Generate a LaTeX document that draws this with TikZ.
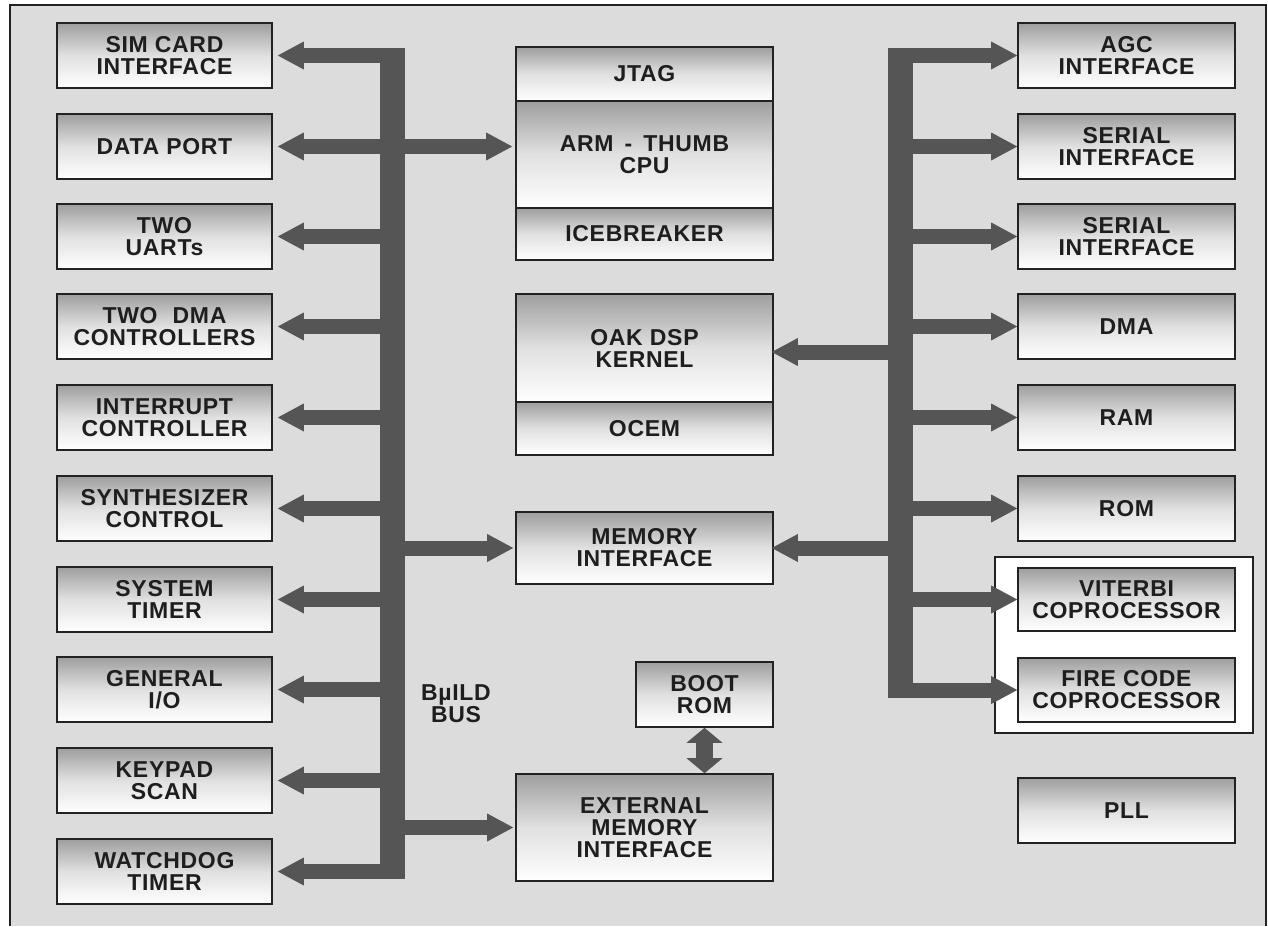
\documentclass[tikz,border=0pt]{standalone}
\usepackage{fontspec}
\setmainfont[LetterSpace=3]{Liberation Sans}
\usetikzlibrary{arrows.meta}
\definecolor{bg}{HTML}{DCDCDC}
\definecolor{busc}{HTML}{555555}
\definecolor{edge}{HTML}{222222}
\definecolor{txt}{HTML}{1E1E1E}
\begin{document}
\begin{tikzpicture}[x=1pt,y=-1pt,
  box/.style={draw=edge, line width=1.6pt, top color=black!38, bottom color=white, middle color=black!12,
    text=txt, align=center, inner sep=0pt, font=\fontsize{23}{22}\selectfont\bfseries},
  lbox/.style={box, minimum width=215pt, minimum height=65pt},
  rbox/.style={box, minimum width=217pt, minimum height=65pt},
  cbox/.style={box, minimum width=257pt},
  bus/.style={draw=busc, line width=25pt},
  fat/.style={draw=busc, line width=15pt, -{Triangle[width=28pt,length=26pt,line width=0pt]}},
  fatboth/.style={draw=busc, line width=15pt, {Triangle[width=28pt,length=26pt,line width=0pt]}-{Triangle[width=28pt,length=26pt,line width=0pt]}},
  vfat/.style={draw=busc, line width=17pt, {Triangle[width=36pt,length=15pt,line width=0pt]}-{Triangle[width=36pt,length=15pt,line width=0pt]}},
  lbl/.style={text=txt, align=center, inner sep=0pt, font=\fontsize{23}{22}\selectfont\bfseries}
]
\useasboundingbox (0,0) rectangle (1268,926);
\fill[white] (0,0) rectangle (1268,926);
\fill[bg] (10,5) rectangle (1266,926);
\draw[edge, line width=1.5pt] (10,926) -- (10,5) -- (1266,5) -- (1266,926);

% group box
\node[draw=edge, fill=white, line width=1.6pt, minimum width=258pt, minimum height=176pt, inner sep=0pt] (grp) at (1124,645) {};

% left column
\node[lbox] (sim)      at (164.5,55.5)  {SIM CARD\\INTERFACE};
\node[lbox] (dport)    at (164.5,146.5) {DATA PORT};
\node[lbox] (uarts)    at (164.5,236.5) {TWO\\UARTs};
\node[lbox] (dmactl)   at (164.5,326.5) {TWO\hspace{8pt} DMA\\CONTROLLERS};
\node[lbox] (intc)     at (164.5,417.5) {INTERRUPT\\CONTROLLER};
\node[lbox] (synth)    at (164.5,508.5) {SYNTHESIZER\\CONTROL};
\node[lbox] (systimer) at (164.5,599.5) {SYSTEM\\TIMER};
\node[lbox] (gio)      at (164.5,689.5) {GENERAL\\I/O};
\node[lbox] (keypad)   at (164.5,780.5) {KEYPAD\\SCAN};
\node[lbox] (wdog)     at (164.5,871.5) {WATCHDOG\\TIMER};

% centre column
\node[cbox, minimum height=54pt]  (jtag) at (644.5,74)    {JTAG};
\node[cbox, minimum height=107pt] (cpu)  at (644.5,154.5) {ARM\hspace{4pt} - \hspace{4pt}THUMB\\CPU};
\node[cbox, minimum height=52pt]  (ice)  at (644.5,234)   {ICEBREAKER};
\node[cbox, minimum height=108pt] (oak)  at (644.5,348)   {OAK DSP\\KERNEL};
\node[cbox, minimum height=53pt]  (ocem) at (644.5,428.5) {OCEM};
\node[cbox, minimum height=72pt]  (memif) at (644.5,548)  {MEMORY\\INTERFACE};
\node[box, minimum width=137pt, minimum height=65pt] (bootrom) at (704.5,694.5) {BOOT\\ROM};
\node[cbox, minimum height=107pt] (extmem) at (644.5,827.5) {EXTERNAL\\MEMORY\\INTERFACE};

% right column
\node[rbox] (agc)  at (1126.5,55.5)  {AGC\\INTERFACE};
\node[rbox] (ser1) at (1126.5,146.5) {SERIAL\\INTERFACE};
\node[rbox] (ser2) at (1126.5,236.5) {SERIAL\\INTERFACE};
\node[rbox] (dma)  at (1126.5,326.5) {DMA};
\node[rbox] (ram)  at (1126.5,417.5) {RAM};
\node[rbox] (rom)  at (1126.5,508.5) {ROM};
\node[rbox, minimum height=63pt] (viterbi) at (1126.5,599.5) {VITERBI\\COPROCESSOR};
\node[rbox, minimum height=64pt] (fire)    at (1126.5,690)   {FIRE CODE\\COPROCESSOR};
\node[rbox] (pll)  at (1126.5,810.5) {PLL};

\node[lbl] (buslbl) at (456,704) {B\textmu ILD\\BUS};

% buses
\coordinate (lbtop) at (392.5,48);
\coordinate (lbbot) at (392.5,879);
\coordinate (rbtop) at (900.5,48);
\coordinate (rbbot) at (900.5,697.5);
\draw[bus] (lbtop) -- (lbbot);
\draw[bus] (rbtop) -- (rbbot);

% left bus arrows
\foreach \n in {sim,uarts,dmactl,intc,synth,systimer,gio,keypad,wdog}
  \draw[fat, shorten >=5pt] (\n.east -| lbtop) -- (\n.east);
\draw[fatboth, shorten <=5pt, shorten >=3pt] (dport.east) -- (dport.east -| cpu.west);
\draw[fat, shorten >=2pt] (memif.west -| lbtop) -- (memif.west);
\draw[fat, shorten >=2pt] (extmem.west -| lbtop) -- (extmem.west);

% right bus arrows
\foreach \n in {agc,ser1,ser2,dma,ram,rom,viterbi,fire}
  \draw[fat] (\n.west -| rbtop) -- (\n.west);
\coordinate (oakin) at (900.5,352);
\draw[fat, shorten >=-2pt] (oakin) -- (oakin -| oak.east);
\draw[fat, shorten >=-2pt] (memif.east -| rbtop) -- (memif.east);

% boot rom link
\draw[vfat] (bootrom.south) -- (bootrom.south |- extmem.north);
\end{tikzpicture}
\end{document}
